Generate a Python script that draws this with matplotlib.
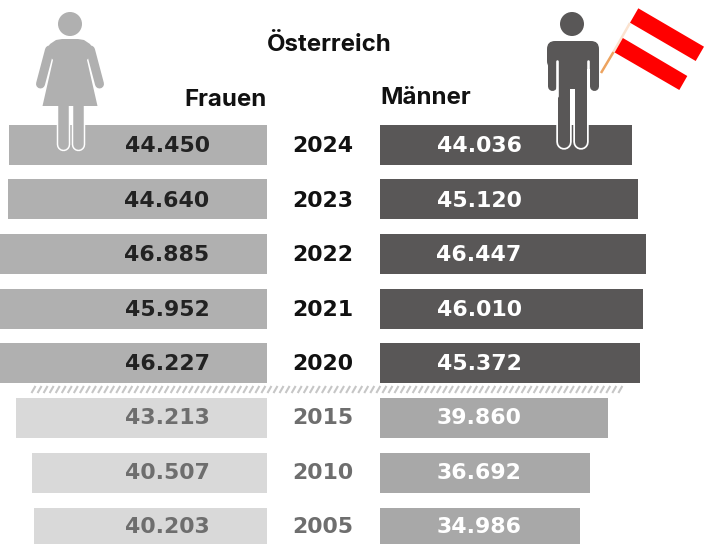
import numpy as np
import matplotlib
matplotlib.use('Agg')
import matplotlib.pyplot as plt
from matplotlib.patches import Circle, Polygon, FancyBboxPatch

years = ['2024', '2023', '2022', '2021', '2020', '2015', '2010', '2005']
frauen = [44450, 44640, 46885, 45952, 46227, 43213, 40507, 40203]
maenner = [44036, 45120, 46447, 46010, 45372, 39860, 36692, 34986]

plt.rcParams['font.family'] = ['Inter', 'DejaVu Sans']

W, H = 716, 544
PX = 72 / 100  # one pixel in points
C_F, C_M = '#b0b0b0', '#595757'
C_F2, C_M2 = '#d9d9d9', '#a8a8a8'
col_f = [C_F] * 5 + [C_F2] * 3
col_m = [C_M] * 5 + [C_M2] * 3

fig = plt.figure(figsize=(W / 100, H / 100), dpi=100)

# rows are 54.7 px apart, first row centred at y=144.6
row0, step = 144.6, 54.7
ylim = ((H - row0) / step, -row0 / step)

# Frauen grow to the left from x=267
ax_f = fig.add_axes([0, 0, 267 / W, 1])
ax_f.barh(range(8), frauen, height=40 / step, color=col_f)
ax_f.set_xlim(267 / 0.0058, 0)
ax_f.set_ylim(*ylim)
ax_f.axis('off')

# Maenner grow to the right from x=380
ax_m = fig.add_axes([380 / W, 0, (W - 380) / W, 1])
ax_m.barh(range(8), maenner, height=40 / step, color=col_m)
ax_m.set_xlim(0, (W - 380) / 0.00572)
ax_m.set_ylim(*ylim)
ax_m.axis('off')

# overlay in pixel coords for labels and icons
ax = fig.add_axes([0, 0, 1, 1])
ax.set_xlim(0, W)
ax.set_ylim(H, 0)
ax.axis('off')
ax.patch.set_alpha(0)


def fmt(v):
    return f'{v:,}'.replace(',', '.')


# DejaVu Bold has even digit widths, close to the letter-spaced originals
for i, y in enumerate(years):
    yy = 146.5 + 54.4 * i
    dark = i < 5
    ax.text(167, yy, fmt(frauen[i]), ha='center', va='center', fontsize=15.8, fontweight='bold',
            family='DejaVu Sans', color='#222222' if dark else '#6e6e6e')
    ax.text(323, yy, y, ha='center', va='center', fontsize=15.8, fontweight='bold',
            family='DejaVu Sans', color='#111111' if dark else '#6e6e6e')
    ax.text(479, yy, fmt(maenner[i]), ha='center', va='center', fontsize=15.8, fontweight='bold',
            family='DejaVu Sans', color='white')

ax.text(329, 45, 'Österreich', ha='center', va='center', fontsize=17.3, fontweight='bold', color='#111111')
ax.text(266.5, 100, 'Frauen', ha='right', va='center', fontsize=17.3, fontweight='bold', color='#111111')
ax.text(380, 98, 'Männer', ha='left', va='center', fontsize=17.3, fontweight='bold', color='#111111')

# hatched break between 2020 and 2015
for x in np.arange(33, 624, 6.05):
    ax.plot([x - 1.5, x + 2.5], [393, 386], color='#c6c6c6', lw=1.5, solid_capstyle='butt')


def limb(x0, y0, x1, y1, color, w):
    ax.plot([x0, x1], [y0, y1], color=color, lw=w * PX, solid_capstyle='round')


# Frau
ax.add_patch(Circle((70, 24), 12, color=C_F, lw=0))
for s in (-1, 1):
    limb(70 + s * 7.5, 112, 70 + s * 7.5, 143.5, 'white', 13.5)
for s in (-1, 1):
    limb(70 + s * 7.5, 100, 70 + s * 7.5, 143.5, C_F, 10.5)
ax.add_patch(Polygon([(46, 50), (50, 44), (56, 40), (62, 39), (78, 39), (84, 40), (90, 44), (94, 50),
                      (87, 60), (53, 60)], color=C_F, lw=0))
for s in (-1, 1):
    limb(70 + s * 20.5, 50, 70 + s * 29.5, 84, C_F, 9)
ax.add_patch(Polygon([(53, 60), (87, 60), (97.5, 106), (42.5, 106)], color=C_F, lw=0))

# Mann
ax.add_patch(Circle((572, 24), 12, color=C_M, lw=0))
for s in (-1, 1):
    limb(572.5 + s * 8.5, 96, 572.5 + s * 8.5, 142, 'white', 15.5)
for s in (-1, 1):
    limb(572.5 + s * 8.5, 85, 572.5 + s * 8.5, 142, C_M, 12)
ax.add_patch(Polygon([(558, 60), (587, 60), (587, 96), (575, 89), (570, 89), (558, 96)],
                     color=C_M, lw=0))
ax.add_patch(FancyBboxPatch((555, 49), 36, 12, boxstyle='round,pad=8', color=C_M, lw=0))
for s in (-1, 1):
    limb(572.5 + s * 21, 60, 572.5 + s * 21, 86, C_M, 9)
    ax.plot([572.5 + s * 15.5, 572.5 + s * 15.5], [61, 96], color='white', lw=2.6 * PX, solid_capstyle='round')

# Fahne
ax.plot([601, 613.5], [73, 52], color='#eda35f', lw=1.8, solid_capstyle='butt')
ax.plot([613.5, 630], [52, 23], color='#fbe3d0', lw=1.8, solid_capstyle='butt')
ax.add_patch(Polygon([(638.3, 8.3), (704, 46.7), (695.7, 61), (630, 22.7)], color='#ff0000', lw=0))
ax.add_patch(Polygon([(621.7, 37.3), (687.3, 76), (679.3, 90), (613.3, 51.7)], color='#ff0000', lw=0))

fig.savefig('out.png', dpi=100)
